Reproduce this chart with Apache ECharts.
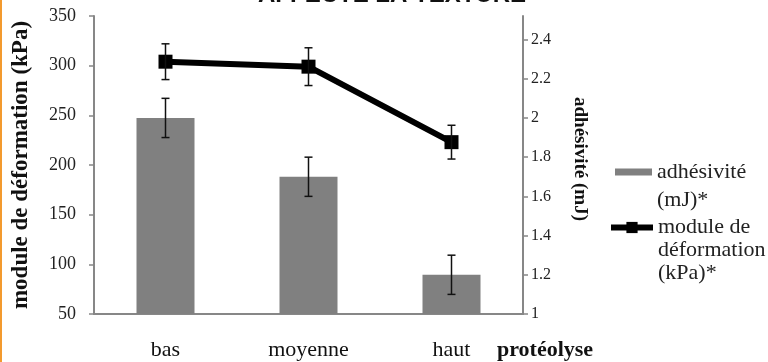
<!DOCTYPE html>
<html>
<head>
<meta charset="utf-8">
<script src="https://cdn.jsdelivr.net/npm/echarts@6/dist/echarts.min.js"></script>
<style>
  html, body { margin: 0; padding: 0; background: #fff; }
  body { border-left: 2px solid #f39a2e; box-sizing: border-box; }
  #chart { width: 766px; height: 362px; }
</style>
</head>
<body>
<div id="chart"></div>
<script>
// niveaux de protéolyse
let categories = ["bas", "moyenne", "haut"];
// adhésivité (mJ), axe de droite
let adhesivite = [2.0, 1.7, 1.2];
let adhesiviteErr = [0.1, 0.1, 0.1];
// module de déformation (kPa), axe de gauche
let module = [304, 299, 223];
let moduleErr = [18, 19, 17];

let serif = "'Liberation Serif', 'Times New Roman', Tinos, 'DejaVu Serif', serif";
let axisGray = "#878787";

function errorData(values, errs) {
    let out = [];
    for (let i = 0; i < values.length; i++) {
        out.push([i, values[i] - errs[i], values[i] + errs[i]]);
    }
    return out;
}

function renderError(params, api) {
    let low = api.coord([api.value(0), api.value(1)]);
    let high = api.coord([api.value(0), api.value(2)]);
    let cap = 4;
    let style = { stroke: "#111", lineWidth: 1.5 };
    return {
        type: "group",
        children: [
            { type: "line", shape: { x1: low[0], y1: low[1], x2: high[0], y2: high[1] }, style: style },
            { type: "line", shape: { x1: low[0] - cap, y1: low[1], x2: low[0] + cap, y2: low[1] }, style: style },
            { type: "line", shape: { x1: high[0] - cap, y1: high[1], x2: high[0] + cap, y2: high[1] }, style: style },
        ],
    };
}

let chart = echarts.init(document.getElementById("chart"));
chart.setOption({
    animation: false,
    title: {
        text: "AFFECTE LA TEXTURE",
        left: 256,
        top: -17,
        padding: 0,
        textStyle: {
            fontFamily: "Liberation Sans",
            fontWeight: "bold",
            fontSize: 24,
            color: "#111",
        },
    },
    legend: [
        {
            data: [{ name: "adhésivité", icon: "rect" }],
            orient: "vertical",
            left: 613,
            top: 130,
            padding: 0,
            itemWidth: 37,
            itemHeight: 7,
            formatter: function () { return "\nadhésivité\n(mJ)*"; },
            textStyle: {
                fontFamily: serif,
                fontWeight: "normal",
                fontSize: 22,
                lineHeight: 28,
                color: "#222",
            },
        },
        {
            data: ["module"],
            orient: "vertical",
            left: 606,
            top: 170,
            padding: 0,
            itemWidth: 42,
            itemHeight: 14,
            lineStyle: { color: "#000", width: 6 },
            formatter: function () { return "\n\nmodule de\ndéformation\n(kPa)*"; },
            textStyle: {
                fontFamily: serif,
                fontWeight: "normal",
                fontSize: 22,
                lineHeight: 23,
                color: "#222",
            },
        },
    ],
    grid: {
        left: 89,
        right: 245,
        top: 16,
        bottom: 48,
    },
    xAxis: {
        type: "category",
        data: categories,
        name: "protéolyse",
        nameLocation: "end",
        nameGap: -26,
        nameTextStyle: {
            fontFamily: serif,
            fontWeight: "bold",
            fontSize: 22,
            color: "#111",
            verticalAlign: "top",
            padding: [25, 0, 0, 0],
        },
        axisLine: { lineStyle: { color: axisGray, width: 2 } },
        axisTick: { length: 5, lineStyle: { color: axisGray, width: 1.5 } },
        axisLabel: {
            fontFamily: serif,
            fontWeight: "normal",
            fontSize: 22,
            color: "#111",
            margin: 25,
        },
    },
    yAxis: [
        {
            type: "value",
            min: 50,
            max: 350,
            interval: 50,
            name: "module de déformation (kPa)",
            nameLocation: "middle",
            nameGap: 61,
            nameRotate: 90,
            nameTextStyle: {
                fontFamily: serif,
                fontWeight: "bold",
                fontSize: 23,
                color: "#111",
            },
            axisLine: { show: true, lineStyle: { color: axisGray, width: 2 } },
            axisTick: { show: true, length: 5, lineStyle: { color: axisGray, width: 1.5 } },
            axisLabel: {
                fontFamily: serif,
                fontWeight: "normal",
                fontSize: 18,
                color: "#222",
                margin: 18,
            },
            splitLine: { show: false },
        },
        {
            type: "value",
            min: 1,
            max: 2.52,
            interval: 0.2,
            position: "right",
            name: "adhésivité (mJ)",
            nameLocation: "middle",
            nameGap: 47,
            nameRotate: -90,
            nameTextStyle: {
                fontFamily: serif,
                fontWeight: "bold",
                fontSize: 19,
                color: "#111",
                padding: [0, 12, 0, 0],
            },
            axisLine: { show: true, lineStyle: { color: axisGray, width: 2 } },
            axisTick: { show: true, length: 5, lineStyle: { color: axisGray, width: 1.5 } },
            axisLabel: {
                fontFamily: serif,
                fontWeight: "normal",
                fontSize: 16,
                color: "#222",
                margin: 8,
                showMaxLabel: false,
            },
            splitLine: { show: false },
        },
    ],
    series: [
        {
            name: "adhésivité",
            type: "bar",
            yAxisIndex: 1,
            data: adhesivite,
            barWidth: 58,
            itemStyle: { color: "#808080" },
        },
        {
            name: "module",
            type: "line",
            yAxisIndex: 0,
            data: module,
            symbol: "rect",
            symbolSize: 14,
            lineStyle: { color: "#000", width: 6 },
            itemStyle: { color: "#000" },
            z: 5,
        },
        {
            type: "custom",
            yAxisIndex: 1,
            data: errorData(adhesivite, adhesiviteErr),
            renderItem: renderError,
            z: 6,
        },
        {
            type: "custom",
            yAxisIndex: 0,
            data: errorData(module, moduleErr),
            renderItem: renderError,
            z: 6,
        },
    ],
});
window.addEventListener("resize", function () {
    chart.resize();
});
</script>
</body>
</html>
